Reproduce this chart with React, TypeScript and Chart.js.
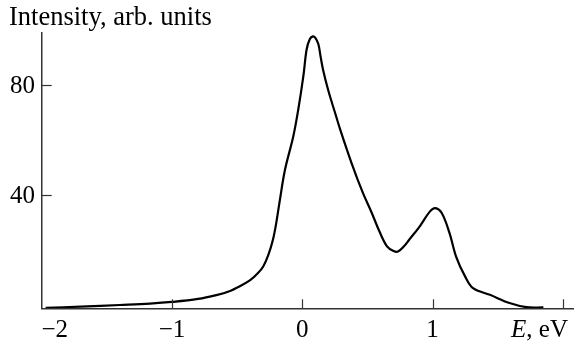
import React, { useEffect, useRef } from "react";
import { Chart, registerables } from "chart.js";

Chart.register(...registerables);

const energies = [
  -1.97, -1.7, -1.4, -1.17, -1.0, -0.8, -0.66, -0.56, -0.48, -0.4, -0.34, -0.3, -0.26, -0.225, -0.2,
  -0.175, -0.133, -0.069, -0.031, 0.008, 0.033, 0.058, 0.082, 0.1, 0.123, 0.14, 0.16, 0.2, 0.25, 0.289,
  0.38, 0.465, 0.53, 0.593, 0.65, 0.7, 0.734, 0.78, 0.82, 0.9, 0.98, 1.02, 1.07, 1.13, 1.18, 1.25,
  1.31, 1.44, 1.59, 1.72, 1.85,
];
const intensity = [
  -0.8, -0.4, 0.2, 0.7, 1.3, 2.4, 3.8, 5.2, 7.0, 9.2, 11.8, 14.2, 18.5, 24, 30, 37.5, 49.3, 61.5,
  71.2, 83.3, 93, 96.8, 97.8, 97.2, 95.0, 90.5, 85.5, 78.0, 70.2, 64.2, 51.5, 40.9, 34, 26.8, 21.5,
  19.8, 19.6, 21.5, 23.9, 28.7, 34.2, 35.4, 33.6, 26.3, 17.8, 10.5, 6.3, 3.9, 0.9, -0.6, -0.7,
];
const xTicks = [-2, -1, 0, 1, 2];
const xTickLabels = ["\u22122", "\u22121", "0", "1", ""];
const yTicks = [40, 80];
const yTickLabels = ["40", "80"];
const yTitle = "Intensity, arb. units";
const xTitleItalic = "E";
const xTitleRest = ", eV";

const FONT = "25px 'Liberation Serif', 'DejaVu Serif', serif";
const TITLE_FONT = "26.5px 'Liberation Serif', 'DejaVu Serif', serif";
const ITALIC = "italic 25px 'Liberation Serif', 'DejaVu Serif', serif";

export default function App() {
  const ref = useRef<HTMLCanvasElement | null>(null);

  useEffect(() => {
    if (!ref.current) return;
    const decor = {
      id: "decor",
      afterDraw(chart: any) {
        const ctx = chart.ctx as CanvasRenderingContext2D;
        const xs = chart.scales.x;
        const ys = chart.scales.y;
        const area = chart.chartArea;
        ctx.save();
        ctx.strokeStyle = "#333";
        ctx.lineWidth = 1.2;
        xTicks.forEach((v) => {
          const px = Math.round(xs.getPixelForValue(v)) + 0.5;
          if (px <= area.left + 1) return;
          ctx.beginPath();
          ctx.moveTo(px, area.bottom);
          ctx.lineTo(px, area.bottom - 9);
          ctx.stroke();
        });
        yTicks.forEach((v) => {
          const py = Math.round(ys.getPixelForValue(v)) + 0.5;
          ctx.beginPath();
          ctx.moveTo(area.left, py);
          ctx.lineTo(area.left + 10, py);
          ctx.stroke();
        });
        ctx.fillStyle = "#000";
        ctx.font = FONT;
        ctx.textAlign = "center";
        ctx.textBaseline = "alphabetic";
        xTicks.forEach((v, i) => {
          const lbl = xTickLabels[i];
          if (!lbl) return;
          let px = xs.getPixelForValue(v);
          if (i === 0) px += 13;
          ctx.fillText(lbl, px, 337);
        });
        ctx.textAlign = "right";
        ctx.textBaseline = "middle";
        yTicks.forEach((v, i) => {
          ctx.fillText(yTickLabels[i], 35, ys.getPixelForValue(v) + 1);
        });
        ctx.font = TITLE_FONT;
        ctx.textAlign = "left";
        ctx.textBaseline = "alphabetic";
        ctx.fillText(yTitle, 9, 25);
        ctx.font = FONT;
        const restW = ctx.measureText(xTitleRest).width;
        ctx.textAlign = "right";
        ctx.fillText(xTitleRest, 568, 337);
        ctx.font = ITALIC;
        ctx.fillText(xTitleItalic, 568 - restW, 337);
        ctx.restore();
      },
    };

    const chart = new Chart(ref.current, {
      type: "line",
      data: {
        datasets: [
          {
            data: energies.map((e, i) => ({ x: e, y: intensity[i] })),
            borderColor: "#000",
            borderWidth: 2.2,
            pointRadius: 0,
            fill: false,
            tension: 0.35,
          },
        ],
      },
      options: {
        animation: false,
        responsive: false,
        layout: { padding: { top: 33, right: 0, left: 0, bottom: 0 } },
        plugins: { legend: { display: false }, tooltip: { enabled: false } },
        scales: {
          x: {
            type: "linear",
            min: -2,
            max: 2.085,
            ticks: { display: false },
            grid: { display: false },
            border: { display: true, color: "#333", width: 1.5 },
            afterFit: (s: any) => {
              s.height = 34.7;
            },
          },
          y: {
            type: "linear",
            min: -1,
            max: 99,
            ticks: { display: false },
            grid: { display: false },
            border: { display: true, color: "#333", width: 1.5 },
            afterFit: (s: any) => {
              s.width = 41.7;
            },
          },
        },
      },
      plugins: [decor],
    });
    return () => chart.destroy();
  }, []);

  return (
    <div style={{ position: "fixed", left: 0, top: 0, width: 574, height: 343, background: "#fff" }}>
      <canvas ref={ref} width={574} height={343} style={{ display: "block", width: 574, height: 343 }} />
    </div>
  );
}
